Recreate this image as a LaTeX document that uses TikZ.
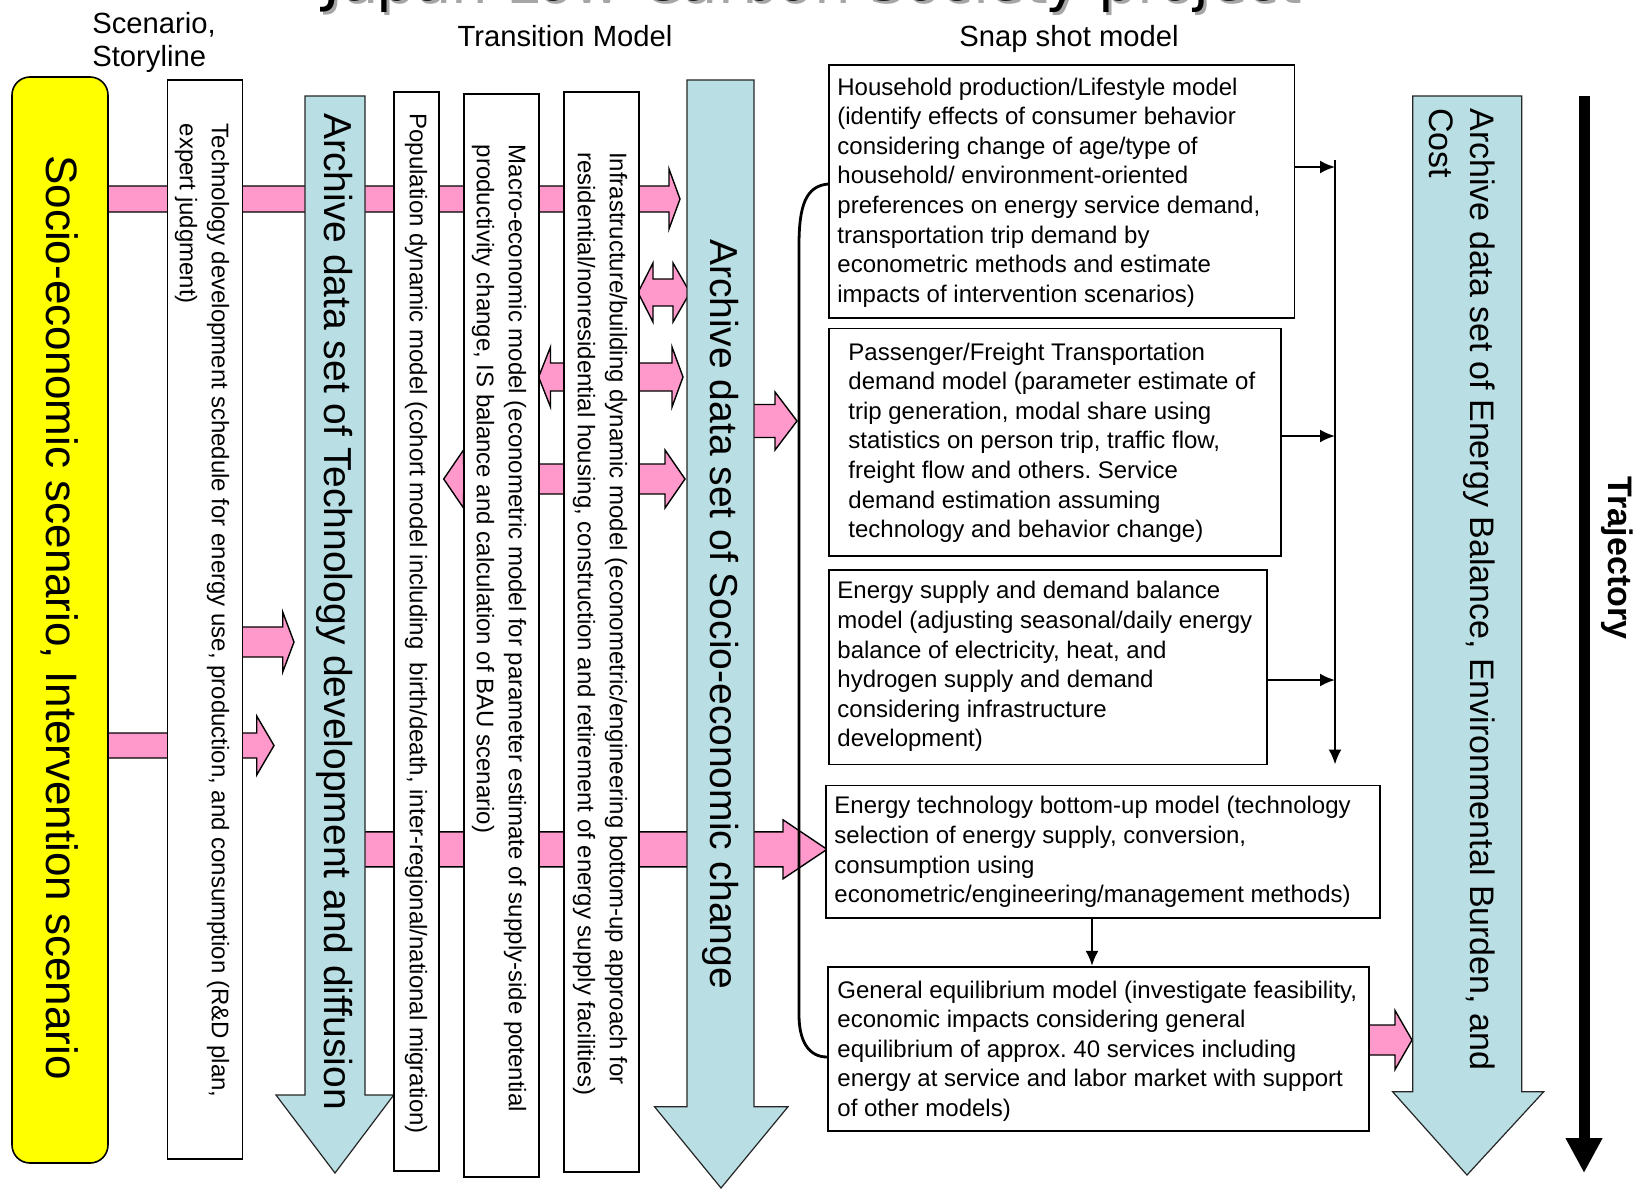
\documentclass[tikz,border=0pt]{standalone}
\usepackage{fontspec}
\setmainfont{Liberation Sans}
\newfontfamily\titlefont{DejaVu Sans}
\usetikzlibrary{arrows.meta,fit}
\definecolor{pk}{RGB}{255,153,204}
\definecolor{tl}{RGB}{185,223,228}
\definecolor{yl}{RGB}{255,255,0}
\frenchspacing
% right block arrow: start x, tip x, centre y, shaft half, head half, head base x
\newcommand\pkR[6]{\filldraw[pka] (#1,#3-#4) -- (#6,#3-#4) -- (#6,#3-#5) -- (#2,#3) -- (#6,#3+#5) -- (#6,#3+#4) -- (#1,#3+#4) -- cycle;}
% double block arrow: left tip, right tip, centre y, shaft half, head half, left base, right base
\newcommand\pkD[7]{\filldraw[pka] (#1,#3) -- (#6,#3-#5) -- (#6,#3-#4) -- (#7,#3-#4) -- (#7,#3-#5) -- (#2,#3) -- (#7,#3+#5) -- (#7,#3+#4) -- (#6,#3+#4) -- (#6,#3+#5) -- cycle;}
\begin{document}
\begin{tikzpicture}[x=0.5pt,y=-0.5pt,
  pka/.style={fill=pk,draw=black,line width=0.7pt,line join=miter},
  bx/.style={draw=black,fill=white,line width=0.8pt,inner sep=0pt},
  tla/.style={fill=tl,draw=black!85,line width=0.6pt,line join=miter},
  vtxt/.style={rotate=-90,anchor=west,align=left,inner sep=0pt,font=\fontsize{12}{16}\selectfont},
  htxt/.style={anchor=west,align=left,inner sep=0pt,font=\fontsize{12}{14.8}\selectfont},
  hdr/.style={anchor=base west,inner sep=0pt,font=\fontsize{14.6}{17}\selectfont},
  conn/.style={draw=black,line width=1.1pt,-{Latex[length=7.5pt,width=6.5pt]}},
]
\useasboundingbox (0,0) rectangle (1641,1189);
\clip (0,0) rectangle (1641,1189);
\fill[white] (0,0) rectangle (1641,1189);

% title (cut off at the top of the picture, as in the reference)
\node[anchor=base,inner sep=0pt,text=black!35,font=\titlefont\fontsize{29}{34}\selectfont] (titleshadow) at (814.5,3) {Japan Low-Carbon Society project};
\node[anchor=base,inner sep=0pt,font=\titlefont\fontsize{29}{34}\selectfont] (title) at (811.5,0) {Japan Low-Carbon Society project};

% headers
\node[hdr] (hScen) at (92,33) {Scenario,};
\node[hdr] (hStory) at (92,66.7) {Storyline};
\node[hdr,anchor=base] (hTrans) at (565,46) {Transition Model};
\node[hdr,anchor=base] (hSnap) at (1069,46) {Snap shot model};

% pink block arrows (behind the boxes)
\pkR{100}{680}{199}{13}{30}{669}
\pkR{100}{274}{745.5}{12.5}{29.5}{256.7}
\pkR{242}{294}{642}{15}{30}{282.7}
\pkR{364}{827}{849.3}{17.5}{29.5}{783}
\pkD{638}{690}{292.5}{13.5}{29.5}{653}{673}
\pkD{538.6}{683}{377}{14}{30}{550.5}{672}
\pkD{443.7}{685}{479}{15}{29}{463.5}{665}
\pkR{753}{797}{421}{16.5}{29}{775}
\pkR{1369}{1412}{1040}{15}{29.5}{1395}

% scenario column
\node[fit={(12,77) (108,1163)},inner sep=0pt,fill=yl,draw=black,line width=0.8pt,rounded corners=9pt] (yel) {};
\node[fit={(167.5,80) (242.4,1159)},bx] (b1) {};

% transition model column
\filldraw[tla] (305,96) -- (365,96) -- (365,1095) -- (393.7,1095) -- (335,1173) -- (276,1095) -- (305,1095) -- cycle;
\node[fit={(393.7,92) (438.7,1171)},bx] (b2) {};
\node[fit={(464,94) (539,1177)},bx] (b3) {};
\node[fit={(564,92) (638.7,1172)},bx] (b4) {};
\filldraw[tla] (687,80) -- (754,80) -- (754,1106.7) -- (788,1106.7) -- (721,1188) -- (654.5,1106.7) -- (687,1106.7) -- cycle;

% snapshot boxes
\node[fit={(829,65) (1294.6,318)},bx] (s1) {};
\node[fit={(829,328.6) (1281,556)},bx] (s2) {};
\node[fit={(829,570) (1267,764.5)},bx] (s3) {};
\node[fit={(826,785.6) (1380,917.7)},bx] (s4) {};
\node[fit={(828,966.7) (1369,1131)},bx] (s5) {};

% right archive arrow
\filldraw[tla] (1412.7,96) -- (1521.7,96) -- (1521.7,1091.7) -- (1543.7,1091.7) -- (1467,1175) -- (1392.6,1091.7) -- (1412.7,1091.7) -- cycle;

% vertical texts
\node[vtxt,font=\fontsize{22}{26}\selectfont] (tYel) at (60,155) {Socio-economic scenario, Intervention scenario};
\node[vtxt] (tB1) at (202,123.5) {Technology development schedule for energy use, production, and consumption (R\&D plan,\\expert judgment)};
\node[vtxt,font=\fontsize{19.5}{23}\selectfont] (tTl1) at (335,113) {Archive data set of Technology development and diffusion};
\node[vtxt] (tB2) at (416,113) {Population dynamic model (cohort model including\ \ birth/death, inter-regional/national migration)};
\node[vtxt] (tB3) at (499,144.4) {Macro-economic model (econometric model for parameter estimate of supply-side potential\\productivity change, IS balance and calculation of BAU scenario)};
\node[vtxt] (tB4) at (600,151.8) {Infrastructure/building dynamic model (econometric/engineering bottom-up approach for\\residential/nonresidential housing, construction and retirement of energy supply facilities)};
\node[vtxt,font=\fontsize{19.5}{23}\selectfont] (tTl2) at (720.5,238.6) {Archive data set of Socio-economic change};
\node[vtxt,font=\fontsize{17}{20.5}\selectfont] (tTl3) at (1462.5,108) {Archive data set of Energy Balance, Environmental Burden, and\\Cost};
\node[rotate=-90,inner sep=0pt,font=\bfseries\fontsize{17}{20}\selectfont] (tTraj) at (1617,558) {Trajectory};

% snapshot texts
\node[htxt] (tS1) at (837,192.5) {Household production/Lifestyle model\\(identify effects of consumer behavior\\considering change of age/type of\\household/ environment-oriented\\preferences on energy service demand,\\transportation trip demand by\\econometric methods and estimate\\impacts of intervention scenarios)};
\node[htxt] (tS2) at (848,442.7) {Passenger/Freight Transportation\\demand model (parameter estimate of\\trip generation, modal share using\\statistics on person trip, traffic flow,\\freight flow and others. Service\\demand estimation assuming\\technology and behavior change)};
\node[htxt] (tS3) at (837,666.7) {Energy supply and demand balance\\model (adjusting seasonal/daily energy\\balance of electricity, heat, and\\hydrogen supply and demand\\considering infrastructure\\development)};
\node[htxt] (tS4) at (834,852) {Energy technology bottom-up model (technology\\selection of energy supply, conversion,\\consumption using\\econometric/engineering/management methods)};
\node[htxt] (tS5) at (837,1051) {General equilibrium model (investigate feasibility,\\economic impacts considering general\\equilibrium of approx. 40 services including\\energy at service and labor market with support\\of other models)};

% connectors
\coordinate (busTop) at (1335,160);
\coordinate (busBot) at (1335,764.5);
\coordinate (bus1) at (1335,167);
\coordinate (bus2) at (1335,436);
\coordinate (bus3) at (1335,680);
\draw[conn] (busTop) -- (busBot);
\draw[conn] (s1.east |- bus1) -- (bus1);
\draw[conn] (s2.east |- bus2) -- (bus2);
\draw[conn] (s3.east |- bus3) -- (bus3);
\coordinate (m45) at (1092,0);
\draw[conn] (s4.south -| m45) -- (s5.north -| m45);

\coordinate (cA) at (0,184);
\coordinate (cB) at (0,1057);
\draw[line width=1.4pt] (s1.west |- cA) .. controls (806,186) and (799,205) .. (799,245) -- (799,1015) .. controls (799,1040) and (808,1057) .. (s5.west |- cB);

% trajectory arrow
\coordinate (trA) at (1584,96);
\coordinate (trB) at (1584,1173);
\draw[line width=5.5pt,-{Triangle[length=17.5pt,width=17.25pt]}] (trA) -- (trB);
\end{tikzpicture}
\end{document}
